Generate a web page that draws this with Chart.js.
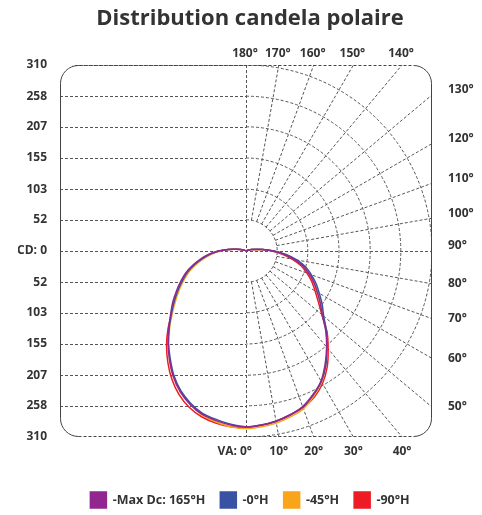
<!DOCTYPE html>
<html>
<head>
<meta charset="utf-8">
<script src="https://cdn.jsdelivr.net/npm/chart.js@4.4.1/dist/chart.umd.min.js"></script>
<style>
  body { margin: 0; background: #fff; }
</style>
</head>
<body>
<canvas id="myChart" width="482" height="515"></canvas>
<script>
// vertical angles (0 = straight down, 180 = straight up)
const angles = [0, 5, 10, 15, 20, 25, 30, 35, 40, 45, 50, 55, 60, 65, 70, 75, 80, 85, 90, 95, 100, 105, 110,
  120, 130, 140, 150, 160, 170, 180];

// candela per half plane
const maxDcLeft = [293, 291, 287, 282, 272, 259, 242, 222, 202, 182, 164, 149, 134, 120, 107, 92, 77, 62, 47, 31, 17, 9, 5,
  2, 1, 0, 0, 0, 0, 0];
const maxDcRight = [293, 291, 288, 283, 276, 264, 250, 230, 209, 188, 166, 151, 137, 125, 112, 99, 82, 64, 45, 28, 15, 9, 5,
  2, 1, 0, 0, 0, 0, 0];
const h0Left = [293, 290, 285, 280, 270, 257, 240, 220, 201, 181, 162, 146, 131, 117, 104, 89, 74, 60, 45, 30, 17, 9, 5,
  2, 1, 0, 0, 0, 0, 0];
const h0Right = [293, 291, 288, 283, 277, 265, 251, 232, 210, 190, 169, 155, 141, 129, 116, 103, 86, 67, 47, 29, 16, 9, 5,
  2, 1, 0, 0, 0, 0, 0];
const h45Left = [296, 294, 289, 283, 272, 259, 242, 222, 201, 180, 160, 143, 128, 114, 101, 86, 71, 57, 43, 29, 16, 9, 5,
  2, 1, 0, 0, 0, 0, 0];
const h45Right = [296, 294, 291, 286, 280, 267, 252, 232, 210, 189, 167, 152, 138, 126, 113, 100, 84, 65, 46, 28, 15, 9, 5,
  2, 1, 0, 0, 0, 0, 0];
const h90Left = [294, 294, 291, 286, 277, 264, 247, 227, 206, 184, 162, 145, 130, 116, 103, 88, 73, 59, 44, 29, 16, 9, 5,
  2, 1, 0, 0, 0, 0, 0];
const h90Right = [294, 292, 288, 283, 278, 269, 255, 236, 213, 191, 165, 147, 133, 121, 108, 95, 78, 61, 43, 27, 14, 9, 5,
  2, 1, 0, 0, 0, 0, 0];

const seriesLabels = ['-Max Dc: 165°H', '-0°H', '-45°H', '-90°H'];
const cdTicks = [0, 52, 103, 155, 207, 258, 310];
const angleTicks = [0, 10, 20, 30, 40, 50, 60, 70, 80, 90, 100, 110, 120, 130, 140, 150, 160, 170, 180];

const FONT = "'Open Sans', sans-serif";
const TEXT = '#333';
const GRID = '#555';
const colors = ['#92278f', '#3953a4', '#f9a51b', '#ed1c24'];

function toPoint(side, deg, cd) {
  const rad = deg * Math.PI / 180;
  return {x: side * cd * Math.sin(rad), y: -cd * Math.cos(rad)};
}

// left half from the top down to nadir, then right half back up
function curve(left, right) {
  const pts = [];
  for (let i = angles.length - 1; i >= 0; i--) pts.push(toPoint(-1, angles[i], left[i]));
  for (let i = 1; i < angles.length; i++) pts.push(toPoint(1, angles[i], right[i]));
  return pts;
}

const halves = [
  [maxDcLeft, maxDcRight],
  [h0Left, h0Right],
  [h45Left, h45Right],
  [h90Left, h90Right],
];

const polarGrid = {
  id: 'polarGrid',
  beforeDatasetsDraw(chart) {
    const {ctx, chartArea: a, scales: {x, y}} = chart;
    const cx = x.getPixelForValue(0);
    const cy = y.getPixelForValue(0);
    const kx = x.getPixelForValue(1) - cx;
    const ky = cy - y.getPixelForValue(1);
    const pix = (deg, cd) => {
      const p = toPoint(1, deg, cd);
      return [x.getPixelForValue(p.x), y.getPixelForValue(p.y)];
    };
    const r = 18;

    ctx.save();
    ctx.beginPath();
    ctx.roundRect(a.left, a.top, a.width, a.height, r);
    ctx.clip();
    ctx.strokeStyle = GRID;
    ctx.lineWidth = 1;
    ctx.setLineDash([3, 2]);

    // candela lines on the left, vertical axis
    ctx.beginPath();
    cdTicks.forEach(v => {
      [v, -v].forEach(s => {
        const yy = Math.round(y.getPixelForValue(s)) + 0.5;
        ctx.moveTo(a.left, yy);
        ctx.lineTo(v === 0 ? a.right : cx, yy);
      });
    });
    ctx.moveTo(Math.round(cx) + 0.5, a.top);
    ctx.lineTo(Math.round(cx) + 0.5, a.bottom);
    ctx.stroke();

    // arcs on the right
    cdTicks.slice(1).forEach(v => {
      ctx.beginPath();
      ctx.ellipse(cx, cy, v * kx, v * ky, 0, -Math.PI / 2, Math.PI / 2);
      ctx.stroke();
    });

    // spokes
    ctx.beginPath();
    angleTicks.forEach(d => {
      if (d % 90 === 0) return;
      const [x1, y1] = pix(d, cdTicks[1]);
      const [x2, y2] = pix(d, 800);
      ctx.moveTo(x1, y1);
      ctx.lineTo(x2, y2);
    });
    ctx.stroke();
    ctx.restore();

    // frame
    const L = a.left + 0.5, R = a.right - 0.5, T = a.top + 0.5, B = a.bottom - 0.5;
    ctx.save();
    ctx.strokeStyle = '#444';
    ctx.lineWidth = 1;
    ctx.beginPath();
    ctx.moveTo(L + r, T);
    ctx.arcTo(L, T, L, T + r, r);
    ctx.lineTo(L, B - r);
    ctx.arcTo(L, B, L + r, B, r);
    ctx.moveTo(R - r, T);
    ctx.arcTo(R, T, R, T + r, r);
    ctx.lineTo(R, B - r);
    ctx.arcTo(R, B, R - r, B, r);
    ctx.stroke();
    ctx.setLineDash([3, 2]);
    ctx.beginPath();
    ctx.moveTo(L + r, T);
    ctx.lineTo(R - r, T);
    ctx.moveTo(L + r, B);
    ctx.lineTo(R - r, B);
    ctx.stroke();
    ctx.restore();
  },
  afterDraw(chart) {
    const {ctx, scales: {x, y}} = chart;
    const lim = y.max;
    ctx.save();
    ctx.font = 'bold 12px ' + FONT;
    ctx.fillStyle = TEXT;
    ctx.textBaseline = 'middle';
    angleTicks.forEach(d => {
      const rad = d * Math.PI / 180;
      const s = Math.sin(rad), c = Math.cos(rad);
      const ts = Math.abs(s) > 1e-9 ? lim / Math.abs(s) : Infinity;
      const tc = Math.abs(c) > 1e-9 ? lim / Math.abs(c) : Infinity;
      const t = Math.min(ts, tc);
      const px = x.getPixelForValue(t * s);
      const py = y.getPixelForValue(-t * c);
      const text = d + '°';
      if (ts <= tc) {
        ctx.textAlign = 'left';
        ctx.fillText(text, px + 16, py + (c > 0.01 ? 0 : -5));
      } else if (c < 0) {
        ctx.textAlign = 'center';
        ctx.fillText(text, px - 1, py - 11);
      } else if (d === 0) {
        ctx.textAlign = 'right';
        ctx.fillText('VA: ' + text, px + ctx.measureText(text).width / 2, py + 15);
      } else {
        ctx.textAlign = 'center';
        ctx.fillText(text, px, py + 15);
      }
    });
    ctx.restore();
  }
};

const config = {
  type: 'scatter',
  data: {
    datasets: halves.map((h, i) => ({
      label: seriesLabels[i],
      data: curve(h[0], h[1]),
      showLine: true,
      borderColor: colors[i],
      backgroundColor: colors[i],
      borderWidth: 1.5,
      pointRadius: 0,
      tension: 0.2,
      fill: false,
    })),
  },
  options: {
    responsive: false,
    animation: false,
    devicePixelRatio: 1,
    layout: {padding: {left: 18, right: 0, top: 0, bottom: -3}},
    scales: {
      x: {
        type: 'linear',
        min: -310,
        max: 310,
        grid: {display: false, drawTicks: false},
        border: {display: false},
        ticks: {display: false},
        afterFit(scale) {
          scale.height = 40;
        },
      },
      y: {
        type: 'linear',
        min: -310,
        max: 310,
        position: 'left',
        grid: {display: false, drawTicks: false},
        border: {display: false},
        ticks: {
          padding: 13,
          color: TEXT,
          font: {family: FONT, size: 12, weight: 'bold'},
          callback: v => (v === 0 ? 'CD: 0' : String(Math.abs(v))),
        },
        afterBuildTicks(scale) {
          const vals = cdTicks.slice(1).reverse().map(v => -v).concat(cdTicks);
          scale.ticks = vals.map(v => ({value: v}));
        },
        afterFit(scale) {
          scale.width = 42;
        },
      },
      yRight: {
        type: 'linear',
        position: 'right',
        grid: {display: false, drawTicks: false},
        border: {display: false},
        ticks: {display: false},
        afterFit(scale) {
          scale.width = 50;
        },
      },
    },
    plugins: {
      title: {
        display: true,
        text: 'Distribution candela polaire',
        color: TEXT,
        font: {family: FONT, size: 22, weight: 'bold'},
        padding: {top: 6, bottom: 32.6},
      },
      legend: {
        position: 'bottom',
        labels: {
          boxWidth: 16,
          boxHeight: 16,
          padding: 15,
          color: TEXT,
          font: {family: FONT, size: 12.5, weight: 'bold'},
        },
      },
      tooltip: {enabled: false},
    },
  },
  plugins: [polarGrid],
};

const myChart = new Chart(document.getElementById('myChart'), config);
</script>
</body>
</html>
